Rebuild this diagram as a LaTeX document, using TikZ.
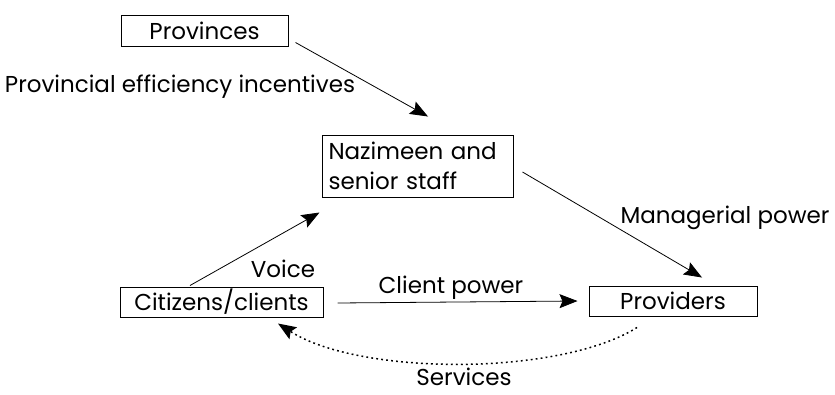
\documentclass[tikz,border=0pt]{standalone}
\usepackage{fontspec}
\setmainfont{Poppins}
\usepackage{tikz}
\usetikzlibrary{arrows.meta}

\begin{document}
\begin{tikzpicture}[x=1pt,y=-1pt,
    every node/.style={font=\fontsize{23}{30}\selectfont},
    box/.style={draw,line width=1pt,inner sep=0pt},
    lbl/.style={anchor=base,inner sep=0pt},
    arr/.style={line width=0.8pt,-{Stealth[length=18pt,width=14pt,inset=3pt]}}]

        \useasboundingbox (0,0) rectangle (835,394);

        \node[box,minimum width=167pt,minimum height=31pt]  (prov) at (204.5,30.5)  {Provinces};
        \node[box,minimum width=191pt,minimum height=62pt,text width=178pt,align=left]
                                                            (naz)  at (417.5,166)   {Nazimeen and\\senior staff};
        \node[box,minimum width=203pt,minimum height=30pt]  (cit)  at (221.5,302)   {Citizens/clients};
        \node[box,minimum width=168pt,minimum height=30pt]  (pvd)  at (673,301)     {Providers};

        \node[lbl] (incent) at (180,92)  {Provincial efficiency incentives};
        \node[lbl] (voice)  at (283,277) {Voice};
        \node[lbl] (client) at (451,293) {Client power};
        \node[lbl] (manag)  at (725,223) {Managerial power};
        \node[lbl] (serv)   at (464,385) {Services};

        \draw[arr] ([xshift=7pt,yshift=4pt]prov.south east) -- ([xshift=10.5pt,yshift=18pt]naz.north);
        \draw[arr] ([xshift=9pt,yshift=-6pt]naz.east) -- ([xshift=29pt,yshift=8pt]pvd.north);
        \draw[arr] ([xshift=-31.5pt,yshift=1pt]cit.north) -- ([xshift=-2pt,yshift=-15pt]naz.south west);
        \draw[arr] ([xshift=14pt,yshift=-1pt]cit.east) -- ([xshift=-11pt]pvd.west);
        \draw[arr,line width=1.5pt,dash pattern=on 1.8pt off 3.2pt] ([xshift=-36pt,yshift=-11pt]pvd.south)
            .. controls (560,376) and (360,376) .. ([xshift=56.5pt,yshift=-6pt]cit.south);
      \end{tikzpicture}
\end{document}
